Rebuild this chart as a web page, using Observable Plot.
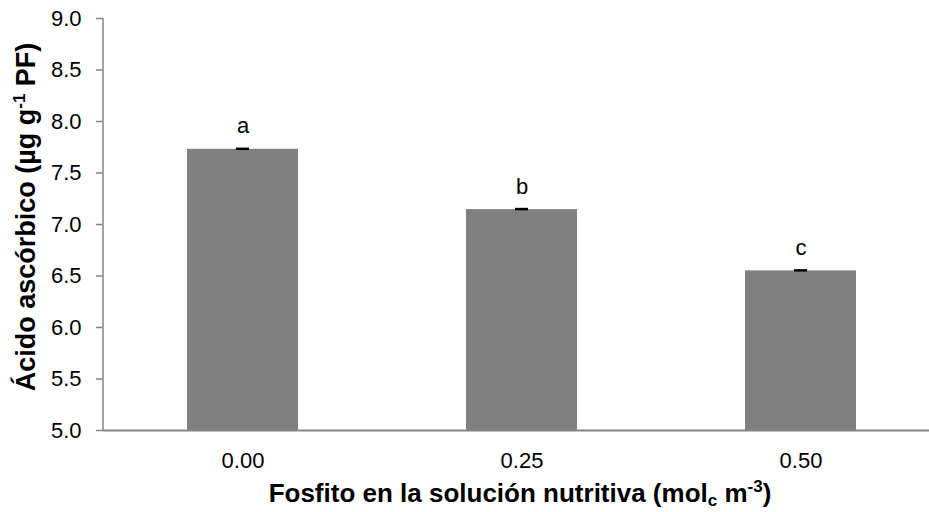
<!DOCTYPE html>
<html>
<head>
<meta charset="utf-8">
<script src="https://cdn.jsdelivr.net/npm/d3@7"></script>
<script src="https://cdn.jsdelivr.net/npm/@observablehq/plot@0.6"></script>
<style>
  html, body { margin: 0; padding: 0; background: #fff; }
</style>
</head>
<body>
<div id="chart"></div>
<script>
const categories = ["0.00", "0.25", "0.50"];
const values = [7.73, 7.145, 6.55];
const errors = [0.012, 0.012, 0.012];
const letters = ["a", "b", "c"];
const yTicks = [5.0, 5.5, 6.0, 6.5, 7.0, 7.5, 8.0, 8.5, 9.0];

const data = categories.map((c, i) => ({cat: c, v: values[i], e: errors[i], l: letters[i]}));

const W = 929, H = 512;
const axisColor = "#868686";
const FONT = "'Liberation Sans', Arial, sans-serif";

const plot = Plot.plot({
  width: W,
  height: H,
  marginTop: 18,
  marginBottom: 82,
  marginLeft: 103,
  marginRight: 0,
  style: {fontFamily: FONT, color: "#000", background: "#fff"},
  x: {type: "band", domain: categories, range: [103, 940], paddingInner: 0.602, paddingOuter: 0.301, label: null},
  y: {domain: [5, 9], label: null},
  marks: [
    Plot.barY(data, {x: "cat", y1: 5, y2: "v", fill: "#808080"}),
    Plot.rect(data, {x: "cat", y1: d => d.v - d.e, y2: d => d.v + d.e, fill: "#000", insetLeft: 49, insetRight: 49}),
    Plot.text(data, {x: "cat", y: "v", text: "l", lineAnchor: "bottom", dy: -16, fill: "#000"}),
    Plot.axisY({ticks: yTicks, tickFormat: d => d.toFixed(1), tickSize: 7, tickPadding: 15, stroke: axisColor, strokeWidth: 1.5, color: "#000", label: null}),
    Plot.axisX({tickSize: 0, tickPadding: 22, label: null}),
    Plot.ruleY([5], {stroke: axisColor, strokeWidth: 2})
  ]
});

document.getElementById("chart").appendChild(plot);

const svg = d3.select(plot);
svg.selectAll("text").style("font-size", "22px").style("font-family", FONT).attr("fill", "#000");

// y axis line along the frame's left edge
const ys = plot.scale("y");
svg.append("line")
  .attr("x1", 103).attr("x2", 103)
  .attr("y1", ys.apply(9)).attr("y2", ys.apply(5))
  .attr("stroke", axisColor).attr("stroke-width", 1.5);

// Axis titles with super/subscripts
const ty = svg.append("text")
  .attr("transform", "translate(35,217) rotate(-90)")
  .attr("text-anchor", "middle")
  .style("font-size", "27px")
  .style("font-family", FONT)
  .attr("font-weight", "bold")
  .attr("fill", "#000");
ty.append("tspan").text("Ácido ascórbico (µg g");
ty.append("tspan").attr("dy", -10).style("font-size", "17px").text("-1");
ty.append("tspan").attr("dy", 10).text(" PF)");

const tx = svg.append("text")
  .attr("x", 520)
  .attr("y", 502)
  .attr("text-anchor", "middle")
  .style("font-size", "26px")
  .style("font-family", FONT)
  .attr("font-weight", "bold")
  .attr("fill", "#000");
tx.append("tspan").text("Fosfito en la solución nutritiva (mol");
tx.append("tspan").attr("dy", 4).style("font-size", "17px").text("c");
tx.append("tspan").attr("dy", -4).text(" m");
tx.append("tspan").attr("dy", -10).style("font-size", "17px").text("-3");
tx.append("tspan").attr("dy", 10).text(")");
</script>
</body>
</html>
